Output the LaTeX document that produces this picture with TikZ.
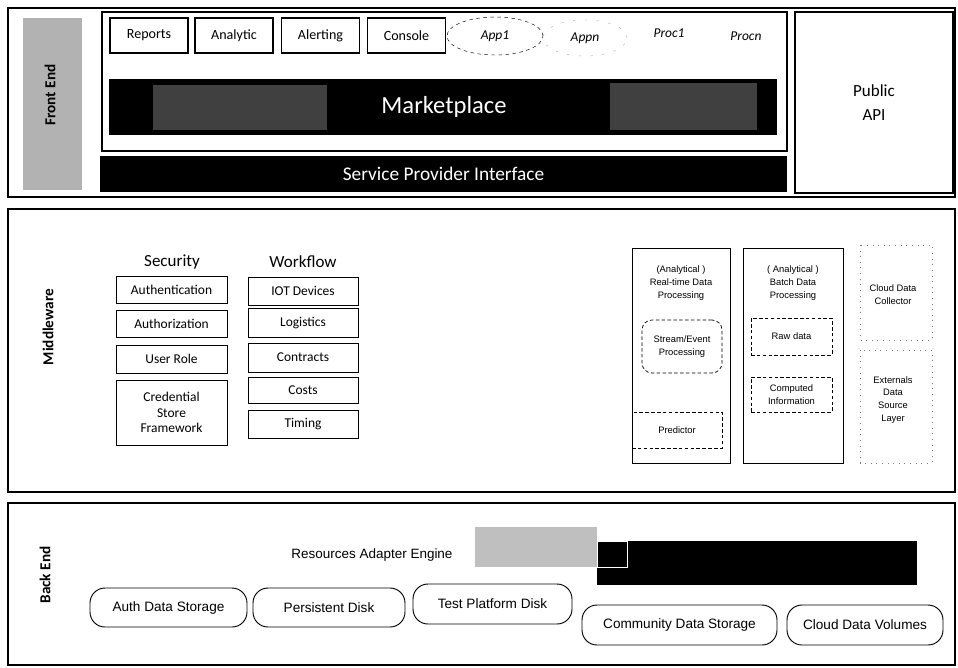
\documentclass[tikz,border=0pt]{standalone}
\usepackage{fontspec}
\setmainfont{Carlito}
\newfontfamily\arialf{Liberation Sans}
\usetikzlibrary{shapes.geometric}
\newcommand{\pxl}{0.3mm}
\tikzset{
  layerframe/.style={line width=1.5pt},
  layerlabel/.style={rotate=90, font=\bfseries\fontsize{13}{15}\selectfont},
  appbox/.style={draw, line width=1pt, minimum width=78*\pxl, minimum height=35*\pxl, inner sep=1pt, font=\fontsize{12}{14}\selectfont},
  appitem/.style={font=\itshape\fontsize{11.5}{13}\selectfont},
  darkbar/.style={fill=black, text=white, inner sep=0pt},
  mwhead/.style={font=\fontsize{14.5}{16}\selectfont},
  mwbox/.style={draw, line width=0.7pt, align=center, inner sep=1pt, font=\fontsize{11.5}{13.5}\selectfont},
  antext/.style={align=center, font=\arialf\fontsize{8}{11}\selectfont},
  anbox/.style={draw, densely dashed, line width=0.6pt, align=center, inner sep=1pt, font=\arialf\fontsize{8}{11}\selectfont},
  pill/.style={draw, line width=0.8pt, rounded corners=4.5mm, inner sep=1pt, font=\arialf\fontsize{11.6}{13}\selectfont}
}
\begin{document}
\begin{tikzpicture}[x=\pxl, y=-\pxl]
    \useasboundingbox (0,0) rectangle (958,667);
    % front end
    \draw [layerframe] (8,8) rectangle (955,197);
    \fill [gray!60] (23,18) rectangle (82,190);
    \node [layerlabel] (frontend) at (50,95) {Front End};
    \draw [line width=1pt] (102,12) rectangle (787,151);
    \node [appbox] (reports) at (149,35.5) {Reports};
    \node [appbox] (analytic) at (234,35.5) {Analytic};
    \node [appbox] (alerting) at (320.5,35.5) {Alerting};
    \node [appbox] (console) at (406.5,35.5) {Console};
    \node [appitem, draw, dashed, ellipse, minimum width=96*\pxl, minimum height=38*\pxl, inner sep=0pt] (app1) at (495,36) {App1};
    \node [appitem, draw=gray!60, dash pattern=on 2pt off 8pt, ellipse, minimum width=84*\pxl, minimum height=36*\pxl, inner sep=0pt] (appn) at (585,38) {Appn};
    \node [appitem] (proc1) at (669,33) {Proc1};
    \node [appitem] (procn) at (746,36) {Procn};
    \fill (109,79) rectangle (777,135);
    \fill [black!75] (153,85) rectangle (327,130);
    \fill [black!75] (610,83) rectangle (757,130);
    \node [text=white, font=\fontsize{21}{24}\selectfont] (market) at (444,107) {Marketplace};
    \node [darkbar, minimum width=687*\pxl, minimum height=36*\pxl, font=\fontsize{16.5}{18}\selectfont] (spi) at (443.5,174) {Service Provider Interface};
    \node [draw, line width=1pt, minimum width=158*\pxl, minimum height=181*\pxl, align=center, font=\fontsize{14.5}{21}\selectfont] (publicapi) at (874,102.5) {Public\\API};
    % middleware
    \draw [layerframe] (8,209) rectangle (955,492);
    \node [layerlabel] (middleware) at (48,327) {Middleware};
    \node [mwhead] (security) at (172,262) {Security};
    \node [mwhead] (workflow) at (303,262) {Workflow};
    \node [mwbox, minimum width=111*\pxl, minimum height=27*\pxl] (authen) at (171.5,289.5) {Authentication};
    \node [mwbox, minimum width=111*\pxl, minimum height=27*\pxl] (author) at (171.5,323.5) {Authorization};
    \node [mwbox, minimum width=111*\pxl, minimum height=28*\pxl] (userrole) at (171.5,359) {User Role};
    \node [mwbox, minimum width=111*\pxl, minimum height=65*\pxl] (credential) at (171.5,412.5) {Credential\\Store\\Framework};
    \node [mwbox, minimum width=110*\pxl, minimum height=28*\pxl] (iot) at (303,291) {IOT Devices};
    \node [mwbox, minimum width=110*\pxl, minimum height=29*\pxl] (logistics) at (303,322.5) {Logistics};
    \node [mwbox, minimum width=110*\pxl, minimum height=29*\pxl] (contracts) at (303,357.5) {Contracts};
    \node [mwbox, minimum width=110*\pxl, minimum height=26*\pxl] (costs) at (303,390) {Costs};
    \node [mwbox, minimum width=110*\pxl, minimum height=28*\pxl] (timing) at (303,424) {Timing};
    \draw [line width=0.6pt] (632,248) rectangle (730,463);
    \node [antext] (realtime) at (681,283) {(Analytical )\\Real-time Data\\Processing};
    \node [anbox, rounded corners=3mm, minimum width=80*\pxl, minimum height=53*\pxl] (stream) at (682,346.5) {Stream/Event\\Processing};
    \node [anbox, minimum width=90*\pxl, minimum height=36*\pxl] (predictor) at (677,430) {Predictor};
    \draw [line width=0.6pt] (743,248) rectangle (843,463);
    \node [antext] (batch) at (793,283) {( Analytical )\\Batch Data\\Processing};
    \node [anbox, minimum width=81*\pxl, minimum height=37*\pxl] (rawdata) at (791.5,336.5) {Raw data};
    \node [anbox, minimum width=81*\pxl, minimum height=35*\pxl] (computed) at (791.5,394.5) {Computed\\Information};
    \draw [gray, loosely dotted, line width=0.8pt] (860,245) rectangle (932,340);
    \node [antext] (collector) at (893,295) {Cloud Data\\Collector};
    \draw [gray, loosely dotted, line width=0.8pt] (860,350) rectangle (932,463);
    \node [antext] (external) at (893,400) {Externals\\Data\\Source\\Layer};
    % back end
    \draw [layerframe] (8,503) rectangle (955,665);
    \node [layerlabel] (backend) at (45,575) {Back End};
    \node [font=\arialf\fontsize{11.5}{13}\selectfont] (adapter) at (372,555) {Resources Adapter Engine};
    \fill [gray!50] (475,527) rectangle (597,567);
    \node [darkbar, minimum width=320*\pxl, minimum height=44*\pxl] (blackbar) at (757,563) {};
    \draw [white, fill=black] (597,541) rectangle (627,567);
    \node [pill, minimum width=157*\pxl, minimum height=39*\pxl] (authdata) at (168.5,607.5) {Auth Data Storage};
    \node [pill, minimum width=152*\pxl, minimum height=39*\pxl] (persist) at (329,607.5) {Persistent Disk};
    \node [pill, minimum width=159*\pxl, minimum height=40*\pxl] (testdisk) at (492.5,604) {Test Platform Disk};
    \node [pill, minimum width=195*\pxl, minimum height=40*\pxl] (community) at (679.5,625) {Community Data Storage};
    \node [pill, minimum width=156*\pxl, minimum height=40*\pxl] (cloudvol) at (865,625) {Cloud Data Volumes};
\end{tikzpicture}
\end{document}
